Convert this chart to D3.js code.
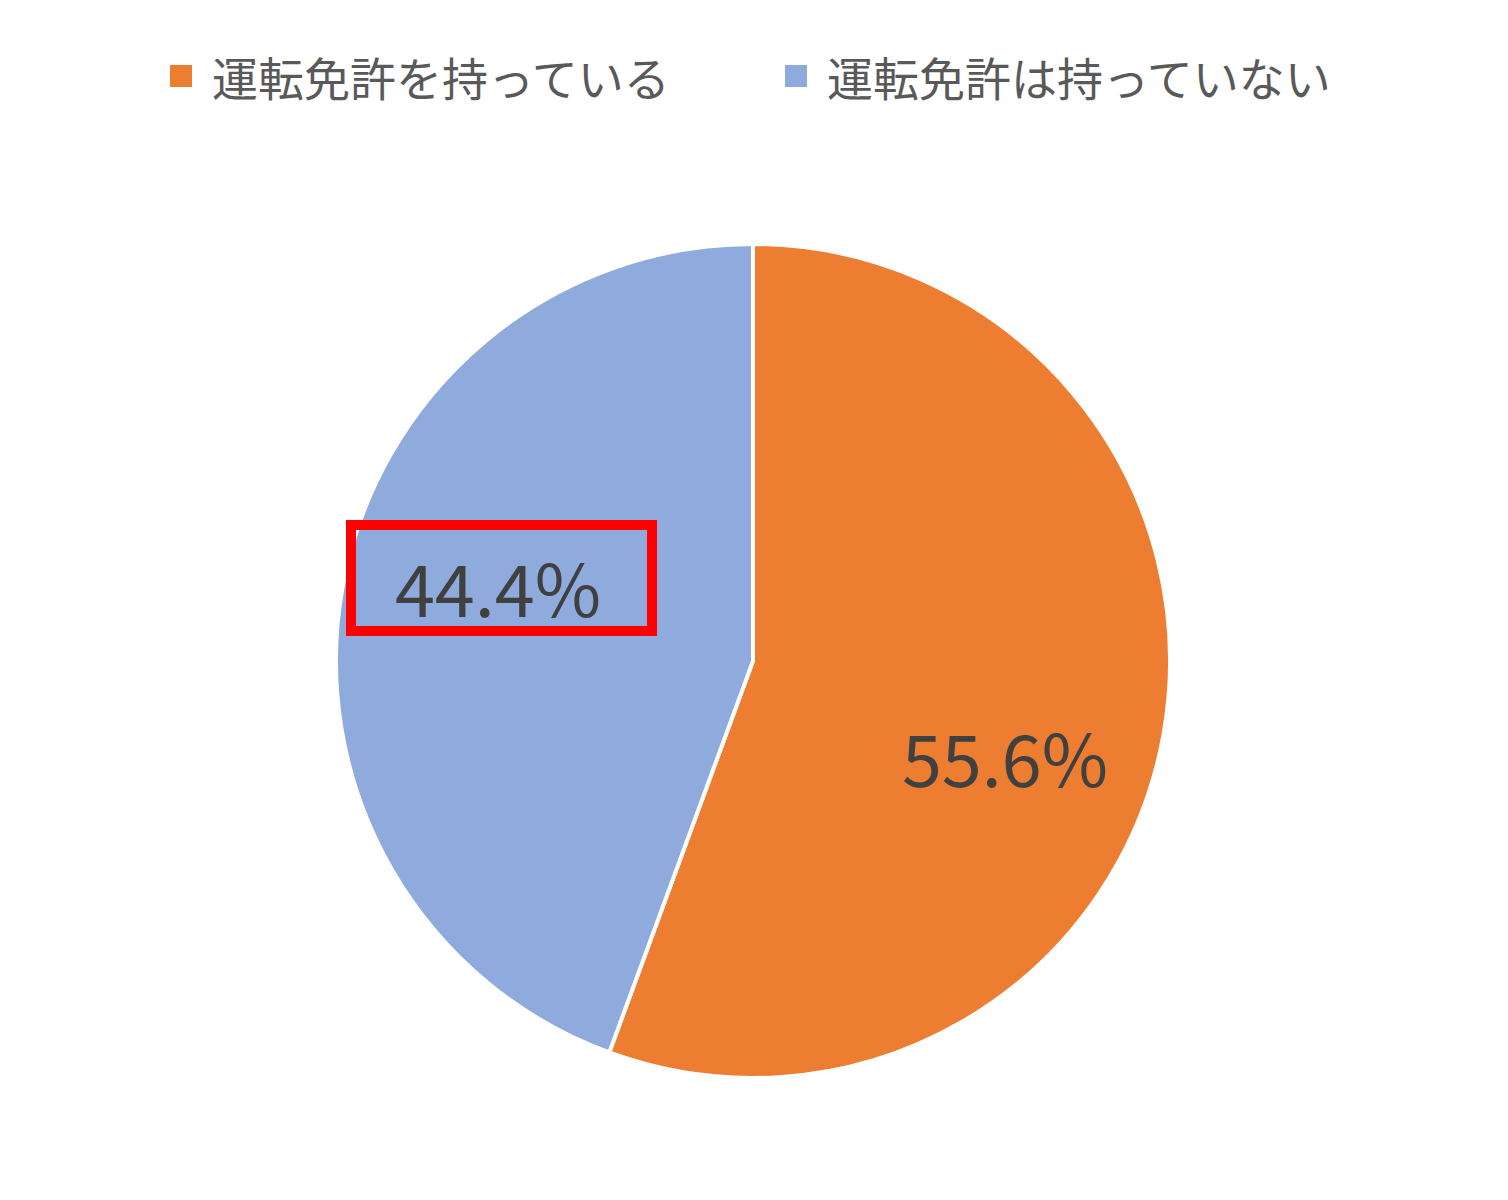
<!DOCTYPE html>
<html>
<head>
<meta charset="utf-8">
<script src="https://cdn.jsdelivr.net/npm/d3@7"></script>
<style>
	body { margin: 0; background: #fff; }
</style>
</head>
<body>
<div id="chart"></div>
<script>
var categories = ["運転免許を持っている", "運転免許は持っていない"];
var values = [55.6, 44.4];
var labels = ["55.6%", "44.4%"];
var colors = ["#ED7D31", "#8FAADC"];

var width = 1508, height = 1200;
var cx = 753, cy = 661, radius = 417;

var svg = d3.select("#chart").append("svg")
	.attr("width", width)
	.attr("height", height);

var pie = d3.pie().sort(null)(values);
var arc = d3.arc().innerRadius(0).outerRadius(radius);

var g = svg.append("g").attr("transform", "translate(" + cx + "," + cy + ")");

g.selectAll("path")
	.data(pie)
	.enter()
	.append("path")
	.attr("d", arc)
	.attr("fill", function(d, i) { return colors[i]; })
	.attr("stroke", "#fff")
	.attr("stroke-width", 4);

// data labels
var labelPos = [[252, 94], [-255, -76]];
g.selectAll("text.lbl")
	.data(pie)
	.enter()
	.append("text")
	.attr("class", "lbl")
	.attr("x", function(d, i) { return labelPos[i][0]; })
	.attr("y", function(d, i) { return labelPos[i][1]; })
	.attr("text-anchor", "middle")
	.attr("dominant-baseline", "central")
	.attr("font-family", "Noto Sans CJK JP, sans-serif")
	.attr("font-size", 72)
	.attr("fill", "#404040")
	.text(function(d, i) { return labels[i]; });

// red highlight box around the second label
svg.append("rect")
	.attr("x", 351)
	.attr("y", 525)
	.attr("width", 301)
	.attr("height", 106)
	.attr("fill", "none")
	.attr("stroke", "#FF0000")
	.attr("stroke-width", 10);

// legend
var legendX = [170, 785];
var legend = svg.selectAll("g.leg")
	.data(categories)
	.enter()
	.append("g")
	.attr("transform", function(d, i) { return "translate(" + legendX[i] + ",76)"; });

legend.append("rect")
	.attr("x", 0).attr("y", -11)
	.attr("width", 22).attr("height", 22)
	.attr("fill", function(d, i) { return colors[i]; });

legend.append("text")
	.attr("x", 42)
	.attr("y", 0)
	.attr("dominant-baseline", "central")
	.attr("font-family", "Noto Sans CJK JP, sans-serif")
	.attr("font-size", 46)
	.attr("fill", "#595959")
	.text(function(d) { return d; });
</script>
</body>
</html>
